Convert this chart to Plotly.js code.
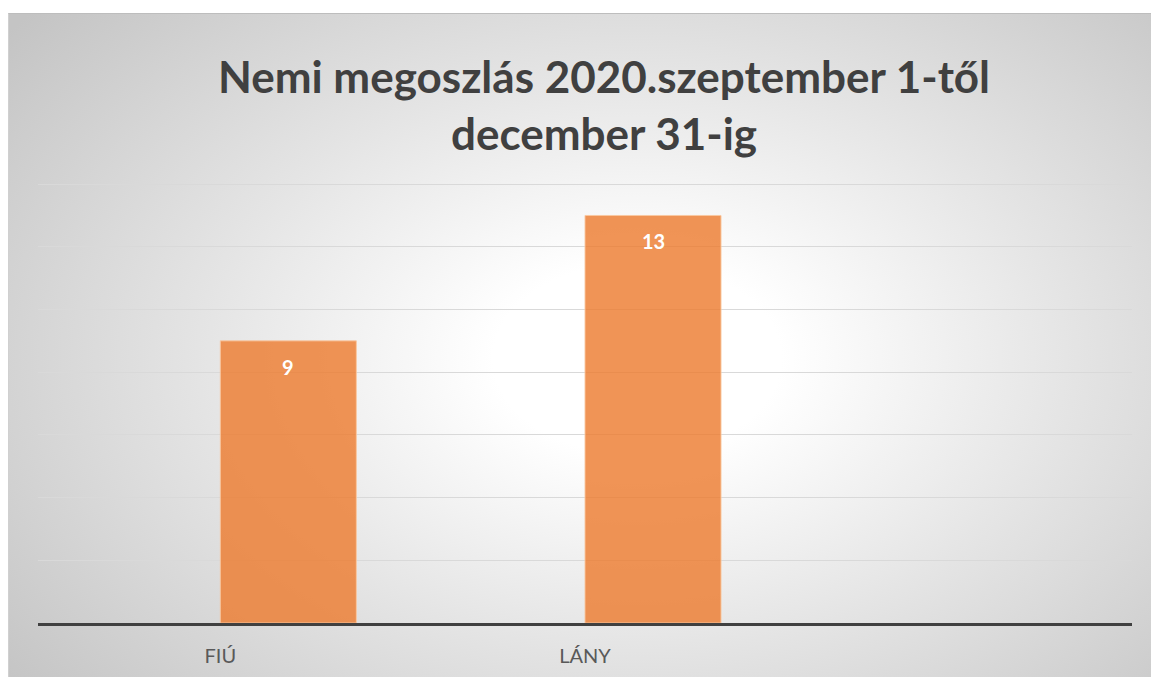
<!DOCTYPE html>
<html>
<head>
<meta charset="utf-8">
<script src="https://cdn.plot.ly/plotly-3.0.1.min.js"></script>
<style>
  html, body { margin: 0; padding: 0; background: #ffffff; }
  #wrap { position: relative; width: 1151px; height: 677px; overflow: hidden; }
  #bg { position: absolute; left: 8px; top: 13px; width: 1143px; height: 664px;
        border-top: 1px solid #bdbdbd; border-left: 1px solid #d0d0d0; box-sizing: border-box;
        background: radial-gradient(ellipse 70% 80% at 55% 52%, #ffffff 0%, #ffffff 18%, #e4e4e4 55%, #c4c4c4 100%); }
  #chart { position: absolute; left: 0; top: 0; width: 1151px; height: 677px; }
</style>
</head>
<body>
<div id="wrap">
  <div id="bg"></div>
  <div id="chart"></div>
</div>
<script>
const categories = ['FIÚ', 'LÁNY'];
const values = [9, 13];
const titleText = 'Nemi megoszlás 2020.szeptember 1-től<br>december 31-ig';

const FONT = 'Lato, "Noto Sans", sans-serif';

const trace = {
  type: 'bar',
  x: categories,
  y: values,
  width: 0.373,
  offset: 0,
  marker: { color: 'rgba(237,125,49,0.82)', line: { color: 'rgba(250,200,160,0.9)', width: 1 } },
  hoverinfo: 'x+y'
};

const annotations = categories.map((c, i) => ({
  x: c, y: values[i], xref: 'x', yref: 'y',
  xshift: 68, yshift: -26,
  text: String(values[i]), showarrow: false,
  font: { family: FONT, size: 20, color: '#ffffff', weight: 'bold' }
}));

const layout = {
  width: 1151, height: 677,
  paper_bgcolor: 'rgba(0,0,0,0)',
  plot_bgcolor: 'rgba(0,0,0,0)',
  margin: { l: 38, r: 19, t: 181, b: 54, pad: 0 },
  showlegend: false,
  title: {
    text: titleText,
    font: { family: FONT, size: 44, color: '#404040', weight: 'bold' },
    x: 604 / 1151, xanchor: 'center', xref: 'container',
    y: 1 - 93 / 677, yanchor: 'top', yref: 'container'
  },
  xaxis: {
    type: 'category',
    categoryorder: 'array', categoryarray: categories,
    range: [-0.5, 2.5],
    showline: true, linecolor: '#404040', linewidth: 3,
    showgrid: false, ticks: '',
    ticklabelstandoff: 13,
    tickfont: { family: FONT, size: 20, color: '#595959' },
    fixedrange: true
  },
  yaxis: {
    range: [0, 14.1], dtick: 2, tick0: 0,
    showticklabels: false, ticks: '',
    showgrid: true, gridcolor: '#d9d9d9', gridwidth: 1,
    zeroline: false, showline: false,
    fixedrange: true
  },
  annotations: annotations
};

Plotly.newPlot('chart', [trace], layout, { displayModeBar: false, staticPlot: true });
</script>
</body>
</html>
